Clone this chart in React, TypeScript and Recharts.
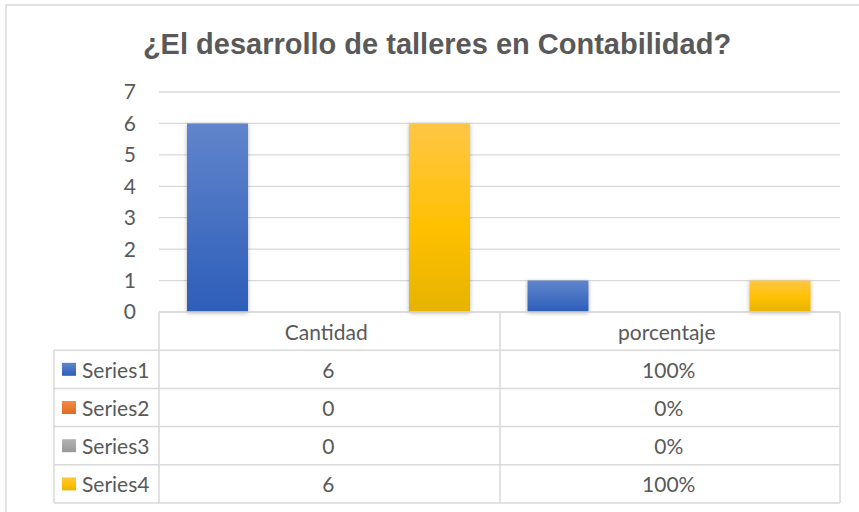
import React from 'react';
import { BarChart, Bar, XAxis, YAxis, CartesianGrid, Customized } from 'recharts';

const title = '¿El desarrollo de talleres en Contabilidad?';
const categories = ['Cantidad', 'porcentaje'];
const series1 = [6, 1];
const series2 = [0, 0];
const series3 = [0, 0];
const series4 = [6, 1];
const seriesNames = ['Series1', 'Series2', 'Series3', 'Series4'];
const categoryFormats = ['number', 'percent'];
const yTicks = [0, 1, 2, 3, 4, 5, 6, 7];

const seriesValues = [series1, series2, series3, series4];
const seriesKeys = ['s1', 's2', 's3', 's4'];
const gradIds = ['gBlue', 'gOrange', 'gGray', 'gYellow'];

const data = categories.map((c, i) => ({
  name: c,
  s1: series1[i],
  s2: series2[i],
  s3: series3[i],
  s4: series4[i],
}));

const FONT = 'Lato, "Open Sans", sans-serif';
const TXT = '#595959';
const LINE = '#d9d9d9';

const PLOT_BOTTOM = 312;
const ROW_H = 38.2;
const TABLE_LEFT = 54;
const PLOT_LEFT = 159;
const PLOT_RIGHT = 840;
const MID = 500;

function fmt(v: number, i: number) {
  return categoryFormats[i] === 'percent' ? `${Math.round(v * 100)}%` : String(v);
}

function TableTick(props: any) {
  const { x, y, payload } = props;
  const idx = payload.index;
  return (
    <g>
      <text x={x - 3} y={y + ROW_H / 2} textAnchor="middle" dominantBaseline="central" fill={TXT} fontSize={21} fontFamily={FONT}>
        {payload.value}
      </text>
      {seriesValues.map((vals, r) => (
        <text
          key={r}
          x={x - 1}
          y={y + ROW_H * (r + 1) + ROW_H / 2}
          textAnchor="middle"
          dominantBaseline="central"
          fill={TXT}
          fontSize={21}
          fontFamily={FONT}
        >
          {fmt(vals[idx], idx)}
        </text>
      ))}
    </g>
  );
}

function Decor() {
  const rows = [1, 2, 3, 4, 5];
  const bottom = PLOT_BOTTOM + ROW_H * 5;
  return (
    <g>
      <rect x={6} y={5} width={1000} height={1000} fill="none" stroke={LINE} strokeWidth={1.5} />
      <text x={437} y={54} textAnchor="middle" fill={TXT} fontSize={29} fontWeight="bold" fontFamily='"Liberation Sans", Arial, sans-serif'>
        {title}
      </text>
      {rows.map((r) => (
        <line key={r} x1={TABLE_LEFT} x2={PLOT_RIGHT} y1={PLOT_BOTTOM + ROW_H * r} y2={PLOT_BOTTOM + ROW_H * r} stroke={LINE} strokeWidth={1.5} />
      ))}
      <line x1={TABLE_LEFT} x2={TABLE_LEFT} y1={PLOT_BOTTOM + ROW_H} y2={bottom} stroke={LINE} strokeWidth={1.5} />
      <line x1={PLOT_LEFT} x2={PLOT_LEFT} y1={PLOT_BOTTOM} y2={bottom} stroke={LINE} strokeWidth={1.5} />
      <line x1={MID} x2={MID} y1={PLOT_BOTTOM} y2={bottom} stroke={LINE} strokeWidth={1.5} />
      <line x1={PLOT_RIGHT} x2={PLOT_RIGHT} y1={PLOT_BOTTOM} y2={bottom} stroke={LINE} strokeWidth={1.5} />
      {seriesNames.map((s, r) => {
        const cy = PLOT_BOTTOM + ROW_H * (r + 1) + ROW_H / 2;
        return (
          <g key={s}>
            <rect x={62} y={cy - 6.5} width={14} height={13} fill={`url(#${gradIds[r]})`} />
            <text x={82} y={cy} dominantBaseline="central" fill={TXT} fontSize={21} fontFamily={FONT}>
              {s}
            </text>
          </g>
        );
      })}
    </g>
  );
}

export default function App() {
  return (
    <div style={{ position: 'absolute', left: 0, top: 0, width: 859, height: 512, background: '#fff' }}>
      <BarChart
        width={859}
        height={512}
        data={data}
        margin={{ top: 92, right: 19, bottom: 0, left: 0 }}
        barCategoryGap={28}
        barGap={13}
      >
        <defs>
          <linearGradient id="gBlue" x1="0" y1="0" x2="0" y2="1">
            <stop offset="0%" stopColor="#6185cc" />
            <stop offset="100%" stopColor="#2d5eb9" />
          </linearGradient>
          <linearGradient id="gOrange" x1="0" y1="0" x2="0" y2="1">
            <stop offset="0%" stopColor="#f4894b" />
            <stop offset="100%" stopColor="#e06a1f" />
          </linearGradient>
          <linearGradient id="gGray" x1="0" y1="0" x2="0" y2="1">
            <stop offset="0%" stopColor="#b3b3b3" />
            <stop offset="100%" stopColor="#979797" />
          </linearGradient>
          <linearGradient id="gYellow" x1="0" y1="0" x2="0" y2="1">
            <stop offset="0%" stopColor="#ffc646" />
            <stop offset="55%" stopColor="#ffc000" />
            <stop offset="100%" stopColor="#e6b300" />
          </linearGradient>
          <filter id="barShadow" x="-30%" y="-10%" width="160%" height="120%">
            <feDropShadow dx="0" dy="1" stdDeviation="2" floodColor="#000" floodOpacity="0.3" />
          </filter>
        </defs>
        <Customized component={Decor} />
        <CartesianGrid vertical={false} stroke={LINE} strokeWidth={1.3} />
        <YAxis
          width={PLOT_LEFT}
          domain={[0, 7]}
          ticks={yTicks}
          interval={0}
          axisLine={false}
          tickLine={false}
          tickSize={0}
          tickMargin={23}
          tick={{ fill: TXT, fontSize: 21, fontFamily: FONT }}
        />
        <XAxis
          dataKey="name"
          height={200}
          interval={0}
          axisLine={{ stroke: LINE, strokeWidth: 1.5 }}
          tickLine={false}
          tickSize={0}
          tickMargin={0}
          tick={<TableTick />}
        />
        {seriesKeys.map((k, i) => (
          <Bar key={k} dataKey={k} name={seriesNames[i]} fill={`url(#${gradIds[i]})`} filter="url(#barShadow)" isAnimationActive={false} />
        ))}
      </BarChart>
    </div>
  );
}
